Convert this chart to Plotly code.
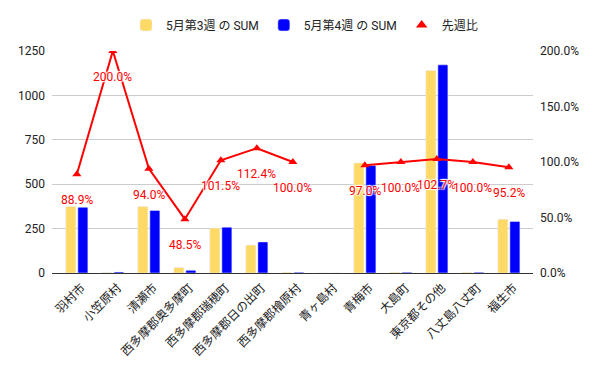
import plotly.graph_objects as go

categories = ["羽村市", "小笠原村", "清瀬市", "西多摩郡奥多摩町", "西多摩郡瑞穂町", "西多摩郡日の出町",
              "西多摩郡檜原村", "青ヶ島村", "青梅市", "大島町", "東京都その他", "八丈島八丈町", "福生市"]
week3 = [375, 3, 374, 31, 253, 157, 4, 0, 620, 4, 1140, 4, 303]
week4 = [370, 6, 352, 15, 258, 175, 4, 0, 605, 4, 1172, 4, 290]
ratio = [0.889, 2.0, 0.94, 0.485, 1.015, 1.124, 1.0, None, 0.97, 1.0, 1.027, 1.0, 0.952]
ratio_labels = ["88.9%", "200.0%", "94.0%", "48.5%", "101.5%", "112.4%", "100.0%", None,
                "97.0%", "100.0%", "102.7%", "100.0%", "95.2%"]
left_ticks = [0, 250, 500, 750, 1000, 1250]
right_ticks = [0, 0.5, 1.0, 1.5, 2.0]

FONT = "Roboto, 'Noto Sans CJK JP', Arial, sans-serif"
YELLOW = "#FFD966"
BLUE = "#0000FF"
RED = "#FF0000"

fig = go.Figure()
fig.add_trace(go.Bar(x=categories, y=week3, name="5月第3週 の SUM", marker_color=YELLOW,
                     width=0.278, offset=-0.306))
fig.add_trace(go.Bar(x=categories, y=week4, name="5月第4週 の SUM", marker_color=BLUE,
                     width=0.278, offset=0.028))
fig.add_trace(go.Scatter(x=categories, y=ratio, yaxis="y2", mode="lines+markers",
                         line=dict(color=RED, width=2),
                         marker=dict(symbol="triangle-up", size=8, color=RED),
                         showlegend=False, connectgaps=False))
fig.add_trace(go.Scatter(x=[None], y=[None], yaxis="y2", mode="markers", name="先週比",
                         marker=dict(symbol="triangle-up", size=10, color=RED)))

for c, r, lab in zip(categories, ratio, ratio_labels):
    if r is None:
        continue
    fig.add_annotation(x=c, y=r, yref="y2", text=lab, showarrow=False, yshift=-26,
                       font=dict(family=FONT, size=12, color=RED,
                                 shadow="1px 1px 1px white, -1px -1px 1px white, 1px -1px 1px white, -1px 1px 1px white"))

fig.update_layout(
    width=600, height=371,
    margin=dict(l=52, r=67, t=51, b=98, autoexpand=False),
    paper_bgcolor="white", plot_bgcolor="white",
    font=dict(family=FONT, size=12, color="#222222"),
    barmode="group",
    barcornerradius=1,
    legend=dict(orientation="h", x=0.525, xanchor="center", y=1.117, yanchor="middle",
                font=dict(size=12, color="#222222"), itemwidth=30),
    xaxis=dict(type="category", range=[-0.69, 12.67], tickangle=-45, automargin=False,
               showline=True, linecolor="#333333", linewidth=1, showgrid=False,
               ticks="", ticklabelshift=5, ticklabelstandoff=2,
               tickfont=dict(size=12, color="#222222")),
    yaxis=dict(range=[0, 1250], tickvals=left_ticks, showgrid=True, gridcolor="#cccccc",
               zeroline=False, ticks="", ticklabelstandoff=6, automargin=False,
               tickfont=dict(size=12, color="#222222")),
    yaxis2=dict(range=[0, 2], tickvals=right_ticks, tickformat=".1%", overlaying="y",
                side="right", showgrid=False, zeroline=False, ticks="", ticklabelstandoff=6,
                automargin=False, tickfont=dict(size=12, color="#222222")),
)

fig.write_html("out.html", config={"displayModeBar": False},
               post_script="document.body.style.margin='0';")
